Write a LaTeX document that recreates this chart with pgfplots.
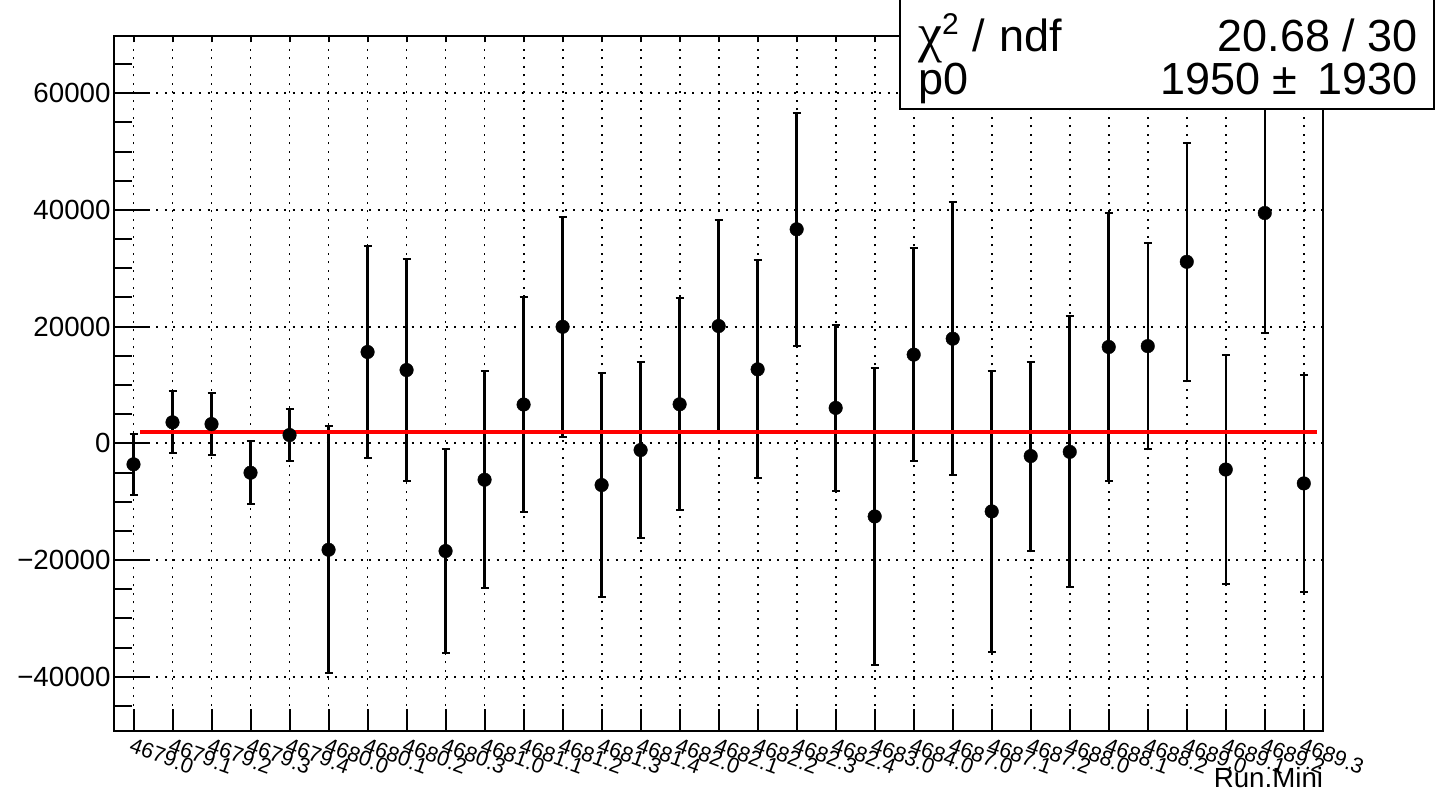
\documentclass[border=0pt]{standalone}
\usepackage{pgfplots}
\usepackage{pgfplotstable}
\pgfplotsset{compat=1.18}
\usepackage{fontspec}
\setmainfont{Liberation Sans}
\newfontfamily\symfont{Liberation Serif}

\pgfplotstableread{
x y e
0 -3600 5200
1 3600 5340
2 3300 5290
3 -5040 5370
4 1420 4400
5 -18240 21200
6 15650 18100
7 12560 18960
8 -18460 17430
9 -6240 18560
10 6650 18500
11 19970 18850
12 -7150 19130
13 -1150 15030
14 6690 18150
15 20100 18110
16 12680 18700
17 36680 19950
18 6070 14230
19 -12530 25470
20 15200 18240
21 17930 23380
22 -11670 24020
23 -2180 16200
24 -1460 23200
25 16510 23000
26 16660 17600
27 31110 20430
28 -4490 19550
29 39470 20570
30 -6870 18630
}\datatable

\newcommand{\tickfont}{\fontsize{27.7bp}{33bp}\selectfont}
\newcommand{\xlabfont}{\fontsize{21.5bp}{24bp}\selectfont}
\newcommand{\statfont}{\fontsize{45bp}{52bp}\selectfont}

\begin{document}
\begin{tikzpicture}
\useasboundingbox (-114bp,-61bp) rectangle (1328bp,731bp);
\begin{axis}[
  at={(0,0)}, anchor=south west, scale only axis,
  width=1209.3bp, height=695.3bp,
  xmin=-0.5, xmax=30.5, ymin=-49300, ymax=69860,
  scaled y ticks=false,
  axis line style={line width=2bp},
  xtick={0,...,30},
  xticklabels={4679.0,4679.1,4679.2,4679.3,4679.4,4680.0,4680.1,4680.2,4680.3,4681.0,4681.1,4681.2,4681.3,4681.4,4682.0,4682.1,4682.2,4682.3,4682.4,4683.0,4684.0,4687.0,4687.1,4687.2,4688.0,4688.1,4688.2,4689.0,4689.1,4689.2,4689.3},
  xticklabel style={font=\xlabfont, rotate=-20, anchor=north west, xshift=2bp, yshift=-6bp, inner sep=0pt},
  xtick style={draw=none},
  ytick={-40000,-20000,0,20000,40000,60000},
  yticklabels={−40000,−20000,0,20000,40000,60000},
  yticklabel style={font=\tickfont},
  minor ytick={-45000,-35000,-30000,-25000,-15000,-10000,-5000,5000,10000,15000,25000,30000,35000,45000,50000,55000,65000},
  ytick style={line width=2bp, black},
  minor tick style={line width=2bp, black},
  major tick length=36bp, minor tick length=18bp,
  tick align=inside, xtick pos=bottom, ytick pos=left,
  grid=major,
  major grid style={black, line width=1.8bp, dash pattern=on 2bp off 6.5bp},
  xlabel={Run.Mini},
  xlabel style={font=\tickfont, at={(rel axis cs:1,0)}, anchor=north east, yshift=-36bp, inner sep=0pt},
  clip=false,
]
\addplot[only marks, mark=*, mark size=6.8bp, black,
  error bars/.cd, y dir=both, y explicit,
  error bar style={line width=2.5bp, black},
  error mark options={line width=2bp, mark size=4bp, black, rotate=90}]
  table[x=x, y=y, y error=e]{\datatable};
\addplot[red, line width=4bp, no marks] coordinates {(0.17,1950) (30.33,1950)};
\end{axis}
% short x ticks at the bottom
\begin{axis}[
  at={(0,0)}, anchor=south west, scale only axis,
  width=1209.3bp, height=695.3bp,
  xmin=-0.5, xmax=30.5, ymin=-49300, ymax=69860,
  axis line style={draw=none},
  xtick={0,...,30}, xticklabels={}, ytick=\empty,
  xtick pos=bottom, tick align=inside,
  major tick length=22bp,
  xtick style={line width=2bp, black},
]
\end{axis}
% tiny x ticks at the top
\begin{axis}[
  at={(0,0)}, anchor=south west, scale only axis,
  width=1209.3bp, height=695.3bp,
  xmin=-0.5, xmax=30.5, ymin=-49300, ymax=69860,
  axis line style={draw=none},
  xtick={0,...,30}, xticklabels={}, ytick=\empty,
  xtick pos=top, tick align=inside,
  major tick length=6bp,
  xtick style={line width=2bp, black},
]
\end{axis}
% stats box
\draw[line width=2bp, black, fill=white] (786bp,622bp) rectangle (1320bp,740bp);
\node[anchor=base west, inner sep=0pt, font=\statfont] at (804bp,679bp) {{\symfont\fontsize{54bp}{54bp}\selectfont χ}\raisebox{17bp}{\fontsize{30bp}{30bp}\selectfont 2}\hspace{14bp}/\hspace{14bp}ndf};
\node[anchor=base east, inner sep=0pt, font=\statfont] at (1304bp,679bp) {20.68 / 30};
\node[anchor=base west, inner sep=0pt, font=\statfont] at (804bp,636bp) {p0};
\node[anchor=base east, inner sep=0pt, font=\statfont] at (1304bp,636bp) {1950 ± \,1930};
\end{tikzpicture}
\end{document}
